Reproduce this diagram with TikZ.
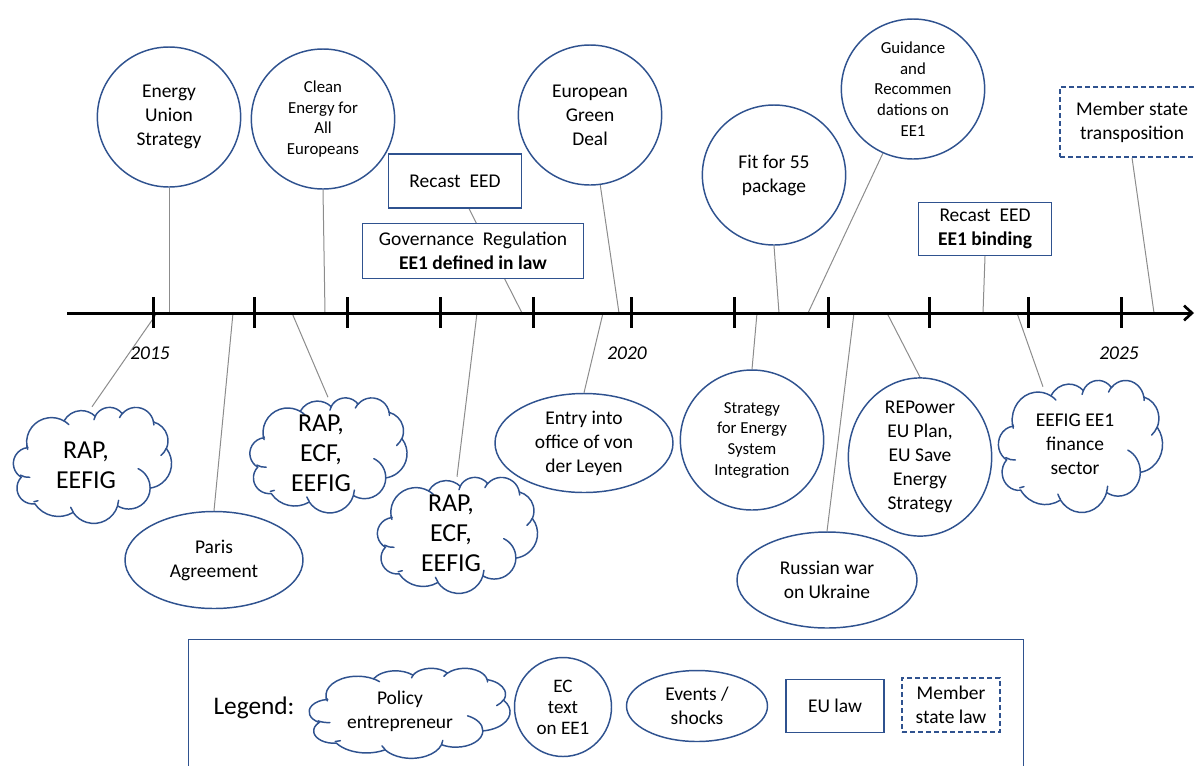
\documentclass[tikz,border=0pt]{standalone}
\usepackage{fontspec}
\setmainfont{Carlito}
\usetikzlibrary{shapes.geometric,arrows.meta,backgrounds}
\definecolor{navy}{HTML}{2F528F}
\definecolor{connc}{HTML}{8C8C8C}
% elliptical arc given with true (visual) angles, as in DrawingML
\newcommand\oarc[4]{arc[x radius=#1, y radius=#2, start angle={atan2((#1)*sin(#3),(#2)*cos(#3))}, delta angle={mod(atan2((#1)*sin((#3)+(#4)),(#2)*cos((#3)+(#4)))-atan2((#1)*sin(#3),(#2)*cos(#3))+720,360)}]}
\newcommand\cloudouter{(39,143.7)
  \oarc{67.53}{91.90}{-190.4875}{123.7805}
  \oarc{53.33}{72.67}{-144.1024}{89.9452}
  \oarc{43.65}{59.45}{-145.8079}{99.7230}
  \oarc{48.57}{65.95}{-130.9861}{117.2417}
  \oarc{53.33}{72.73}{-78.7089}{109.0269}
  \oarc{67.75}{92.20}{-46.2673}{130.2690}
  \oarc{57.85}{78.67}{0.6250}{114.0333}
  \oarc{67.52}{92.15}{22.4516}{115.1726}
  \oarc{77.20}{105.43}{66.2426}{71.4966}
  \oarc{43.60}{59.18}{-274.9421}{146.7356}
  \oarc{43.45}{59.45}{-246.8285}{152.5189} -- cycle}
\newcommand\cloudinner{
  (46.93,261.77) \oarc{43.45}{59.45}{86.742}{26.430}
  (69.28,348.99) \oarc{43.60}{59.18}{73.610}{11.447}
  (164.78,390.90) \oarc{67.52}{92.15}{137.624}{14.081}
  (288.27,347.51) \oarc{67.52}{92.15}{6.453}{15.998}
  (341.29,229.54) \oarc{57.85}{78.67}{-70.292}{70.917}
  (417.98,153.54) \oarc{53.33}{72.73}{30.318}{27.752}
  (383.24,54.26) \oarc{48.57}{65.95}{-13.744}{14.859}
  (290.78,39.52) \oarc{48.57}{65.95}{-149.181}{18.195}
  (221.41,47.20) \oarc{43.65}{59.45}{-163.494}{19.014}
  (140.00,51.92) \oarc{67.53}{91.90}{-66.707}{12.319}
  (41.27,157.89) \oarc{67.53}{91.90}{157.654}{11.858}}
% name, centre x, centre y, width, height (picture units)
\newcommand\ocloud[5]{%
  \node[ellipse, minimum width={#4*0.75pt}, minimum height={#5*0.75pt}, inner sep=0pt] (#1) at (#2,#3) {};
  \begin{scope}[shift={({#2-#4/2},{#3-#5/2})}, x={#4/432*0.75pt}, y={-#5/432*0.75pt}]
    \path[shp] \cloudouter;
    \draw[draw=navy, line width=1.1pt, line cap=round] \cloudinner;
  \end{scope}}
\begin{document}
\begin{tikzpicture}[x=0.75pt,y=-0.75pt,
  every node/.style={text=black, align=center, inner sep=0pt},
  shp/.style={draw=navy, line width=1.1pt, fill=white},
  circ/.style={shp, ellipse, minimum width=107.5pt, minimum height=105pt},
  evt/.style={shp, ellipse},
  law/.style={shp, rectangle},
  msl/.style={law, dash pattern=on 3.5pt off 2.5pt},
  conn/.style={draw=connc, line width=0.75pt},
  fnorm/.style={font=\fontsize{14.6}{18}\selectfont},
  fsmall/.style={font=\fontsize{12.6}{15.5}\selectfont},
  fbig/.style={font=\fontsize{19.4}{22.5}\selectfont},
  fyear/.style={font=\fontsize{14.6}{18}\selectfont\itshape},
]
\useasboundingbox (0,0) rectangle (1195,765);
\clip (0,0) rectangle (1195,765);

% ---------- axis ----------
\coordinate (axstart) at (67,313);
\coordinate (axend) at (1194,313);
\draw[line width=2.25pt, -{Straight Barb[length=6pt,width=11pt,line width=2pt]}] (axstart) -- (axend);
\foreach \x in {153,254,347,440,533,631,734,828,929,1028,1121}
  \draw[line width=2.25pt] (\x,297) -- (\x,328);
\node[fyear] (y2015) at (150,353) {2015};
\node[fyear] (y2020) at (627,353) {2020};
\node[fyear] (y2025) at (1119,353) {2025};

% axis anchor points
\coordinate (a-eus) at (169,313);
\coordinate (a-ceaa) at (325,313);
\coordinate (a-ree1) at (522,313);
\coordinate (a-egd) at (619,313);
\coordinate (a-fit) at (779,313);
\coordinate (a-gdn) at (808,313);
\coordinate (a-ree2) at (983,313);
\coordinate (a-mst) at (1154,313);
\coordinate (a-c1) at (157,313);
\coordinate (a-paris) at (233,313);
\coordinate (a-c2) at (292,313);
\coordinate (a-c3) at (477,313);
\coordinate (a-entry) at (603,313);
\coordinate (a-sesi) at (757,313);
\coordinate (a-rus) at (854,313);
\coordinate (a-rep) at (887,313);
\coordinate (a-c4) at (1017,313);

% ---------- above the axis ----------
\node[circ, fnorm] (eus) at (169,117) {Energy\\Union\\Strategy};
\node[circ, fsmall] (ceaa) at (323,119) {Clean\\Energy for\\All\\Europeans};
\node[law, fnorm, minimum width=99.75pt, minimum height=40.5pt] (ree1) at (455,181) {Recast~~EED};
\node[law, fnorm, minimum width=165.75pt, minimum height=41.25pt] (gov) at (473,251) {Governance~~Regulation\\\textbf{EE1 defined in law}};
\node[circ, fnorm] (egd) at (590,115) {European\\Green\\Deal};
\node[circ, fnorm] (fit) at (774,175) {Fit for 55\\package};
\node[circ, fsmall] (gdn) at (913,89) {Guidance\\and\\Recommen\\dations on\\EE1};
\node[law, fnorm, minimum width=99.75pt, minimum height=39.75pt] (ree2) at (985,229) {Recast~~EED\\\textbf{EE1 binding}};
\node[msl, fnorm, minimum width=108pt, minimum height=52.5pt] (mst) at (1132,122) {Member state\\transposition};

% ---------- below the axis ----------
\ocloud{c1}{92}{465}{159}{116}
\node[fbig] (c1t) at (86,465) {RAP,\\EEFIG};
\node[evt, fnorm, minimum width=133.5pt, minimum height=72.75pt] (paris) at (214,560) {Paris\\Agreement};
\ocloud{c2}{328}{455}{158}{115}
\node[fbig] (c2t) at (321,453) {RAP,\\ECF,\\EEFIG};
\ocloud{c3}{457}{535}{161}{116}
\node[fbig] (c3t) at (451,533) {RAP,\\ECF,\\EEFIG};
\node[evt, fnorm, minimum width=133.5pt, minimum height=74.25pt] (entry) at (584,443) {Entry into\\office of von\\der Leyen};
\node[circ, fsmall] (sesi) at (752,440) {Strategy\\for Energy\\System\\Integration};
\node[evt, fnorm, minimum width=135pt, minimum height=72pt] (rus) at (827,580) {Russian war\\on Ukraine};
\node[circ, fnorm] (rep) at (920,457) {REPower\\EU Plan,\\EU Save\\Energy\\Strategy};
\ocloud{c4}{1080}{446}{165}{132}
\node[fnorm] (c4t) at (1075,444) {EEFIG EE1\\finance\\sector};

% ---------- connectors ----------
\begin{scope}[on background layer]
\draw[conn] (eus.south) -- (a-eus);
\draw[conn] (ceaa.south) -- (a-ceaa);
\draw[conn] (ree1) -- (a-ree1);
\draw[conn] (egd) -- (a-egd);
\draw[conn] (fit.south) -- (a-fit);
\draw[conn] (gdn) -- (a-gdn);
\draw[conn] (ree2.south) -- (a-ree2);
\draw[conn] (mst.south) -- (a-mst);
\draw[conn] (c1.north) -- (a-c1);
\draw[conn] (paris.north) -- (a-paris);
\draw[conn] (c2.north) -- (a-c2);
\draw[conn] (c3.north) -- (a-c3);
\draw[conn] (entry.north) -- (a-entry);
\draw[conn] (sesi.north) -- (a-sesi);
\draw[conn] (rus.north) -- (a-rus);
\draw[conn] (rep.north) -- (a-rep);
\draw[conn] (c4.122) -- (a-c4);
\end{scope}

% ---------- legend ----------
\node[law, anchor=north west, minimum width=626.25pt, minimum height=120pt] (legend) at (188,639) {};
\node[font=\fontsize{19}{22}\selectfont] (legt) at (254,708) {Legend:};
\ocloud{lpe}{409}{713}{202}{90}
\node[fnorm] (lpet) at (400,711) {Policy\\entrepreneur};
\node[evt, font=\fontsize{14.3}{15.8}\selectfont, minimum width=72.75pt, minimum height=74.25pt] (lec) at (563,707) {EC\\text\\on EE1};
\node[evt, fnorm, minimum width=105.75pt, minimum height=53.25pt] (lev) at (697,706) {Events /\\shocks};
\node[law, fnorm, minimum width=73.5pt, minimum height=39.75pt] (llaw) at (835,706) {EU law};
\node[msl, fnorm, minimum width=73.5pt, minimum height=40.5pt] (lmsl) at (951,705) {Member\\state law};
\end{tikzpicture}
\end{document}
